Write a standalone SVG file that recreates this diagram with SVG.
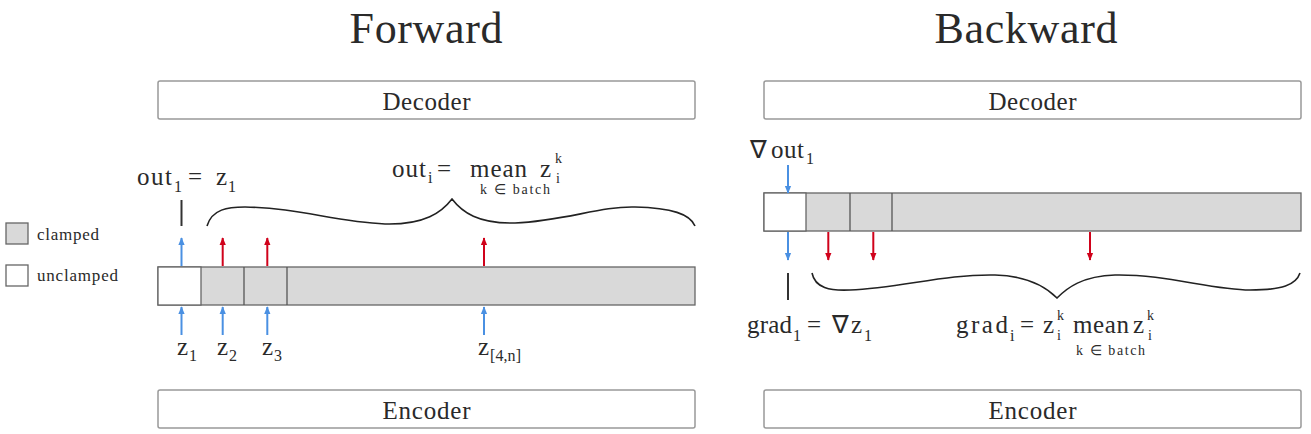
<svg xmlns="http://www.w3.org/2000/svg" width="1311" height="434" viewBox="0 0 1311 434">
<defs>
<style>
text{font-family:"Liberation Serif","Times New Roman",serif;fill:#2a2a2a}
.t{font-size:44px}
.b{font-size:25px}
.m{font-size:25px}
.s{font-size:16px}
.ss{font-size:14px}
.xs{font-size:14px}
.lg{font-size:17px}
.box{fill:#fff;stroke:#999;stroke-width:1.5}
.cl{fill:#d9d9d9;stroke:#666;stroke-width:1.3}
.un{fill:#fff;stroke:#666;stroke-width:1.3}
.blue{stroke:#4a90e2;stroke-width:2;fill:none}
.red{stroke:#d0021b;stroke-width:2;fill:none}
.tick{stroke:#333;stroke-width:2}
.brace{fill:none;stroke:#222;stroke-width:1.6}
</style>
<marker id="ab" viewBox="0 0 10 10" refX="9" refY="5" markerWidth="4" markerHeight="4" markerUnits="strokeWidth" orient="auto"><path d="M0,1 L10,5 L0,9 z" fill="#4a90e2"/></marker>
<marker id="ar" viewBox="0 0 10 10" refX="9" refY="5" markerWidth="4" markerHeight="4" markerUnits="strokeWidth" orient="auto"><path d="M0,1 L10,5 L0,9 z" fill="#d0021b"/></marker>
</defs>

<text class="t" x="426" y="43" text-anchor="middle" textLength="153">Forward</text>
<text class="t" x="1026" y="43" text-anchor="middle" textLength="183">Backward</text>

<g id="legend">
<rect class="cl" x="6" y="223" width="22" height="21"/>
<text class="lg" x="37" y="240" textLength="62">clamped</text>
<rect class="un" x="6" y="265" width="22" height="21"/>
<text class="lg" x="37" y="281" textLength="81">unclamped</text>
</g>

<g id="fwd-decoder"><rect class="box" x="158" y="81" width="537" height="38" rx="2"/><text class="b" x="426.5" y="110" text-anchor="middle" textLength="88">Decoder</text></g>
<g id="fwd-encoder"><rect class="box" x="158" y="390" width="537" height="38" rx="2"/><text class="b" x="426.5" y="419" text-anchor="middle" textLength="88">Encoder</text></g>
<g id="bwd-decoder"><rect class="box" x="764" y="81" width="537" height="38" rx="2"/><text class="b" x="1032.5" y="110" text-anchor="middle" textLength="88">Decoder</text></g>
<g id="bwd-encoder"><rect class="box" x="764" y="390" width="537" height="38" rx="2"/><text class="b" x="1032.5" y="419" text-anchor="middle" textLength="88">Encoder</text></g>

<g id="fwd-bar">
<rect class="cl" x="158" y="267" width="537" height="38"/>
<rect class="un" x="158" y="267" width="43" height="38"/>
<line x1="244" y1="267" x2="244" y2="305" stroke="#555" stroke-width="1.3"/>
<line x1="287" y1="267" x2="287" y2="305" stroke="#555" stroke-width="1.3"/>
</g>

<g id="bwd-bar">
<rect class="cl" x="764" y="193" width="537" height="38"/>
<rect class="un" x="764" y="193" width="42" height="38"/>
<line x1="850" y1="193" x2="850" y2="231" stroke="#555" stroke-width="1.3"/>
<line x1="892" y1="193" x2="892" y2="231" stroke="#555" stroke-width="1.3"/>
</g>

<g id="connectors">
<line class="blue" x1="181.5" y1="335" x2="181.5" y2="307" marker-end="url(#ab)"/>
<line class="blue" x1="222.7" y1="335" x2="222.7" y2="307" marker-end="url(#ab)"/>
<line class="blue" x1="267.3" y1="335" x2="267.3" y2="307" marker-end="url(#ab)"/>
<line class="blue" x1="484" y1="335" x2="484" y2="307" marker-end="url(#ab)"/>
<line class="blue" x1="181.5" y1="266" x2="181.5" y2="238" marker-end="url(#ab)"/>
<line class="red" x1="222.7" y1="266" x2="222.7" y2="238" marker-end="url(#ar)"/>
<line class="red" x1="267.3" y1="266" x2="267.3" y2="238" marker-end="url(#ar)"/>
<line class="red" x1="484" y1="266" x2="484" y2="238" marker-end="url(#ar)"/>
<line class="blue" x1="788" y1="165" x2="788" y2="193" marker-end="url(#ab)"/>
<line class="blue" x1="788" y1="232" x2="788" y2="260" marker-end="url(#ab)"/>
<line class="red" x1="828.3" y1="232" x2="828.3" y2="260" marker-end="url(#ar)"/>
<line class="red" x1="873.3" y1="232" x2="873.3" y2="260" marker-end="url(#ar)"/>
<line class="red" x1="1090" y1="232" x2="1090" y2="260" marker-end="url(#ar)"/>
<line class="tick" x1="181.5" y1="200" x2="181.5" y2="226"/>
<line class="tick" x1="788" y1="273" x2="788" y2="300"/>
<path class="brace" d="M207,226 C212,209 228,207 245,207 C300,208 335,222 385,224 C425,225 442,212 452,199 C462,212 478,224 515,223 C565,221 600,206 635,207 C672,208 690,214 695,226"/>
<path class="brace" d="M812,273 C815,288 830,291 850,290 C900,288 945,274 995,275 C1030,276 1047,288 1057,298 C1067,288 1082,276 1115,275 C1165,274 1212,290 1250,290 C1282,290 1296,285 1300,273"/>
</g>

<g id="labels">
<text class="m" x="137" y="185" textLength="35">out</text><text class="s" x="174" y="192">1</text><text class="m" x="188" y="185">=</text><text class="m" x="216" y="185">z</text><text class="s" x="228" y="192">1</text>

<text class="m" x="392" y="177" textLength="34">out</text><text class="s" x="428" y="183">i</text><text class="m" x="437" y="177">=</text><text class="m" x="470" y="177" textLength="57">mean</text><text class="m" x="540" y="177">z</text><text class="ss" x="555" y="163">k</text><text class="ss" x="556" y="183">i</text><text class="xs" x="480" y="194" textLength="70">k ∈ batch</text>

<text class="m" x="177" y="355">z</text><text class="s" x="189" y="361">1</text>
<text class="m" x="217" y="355">z</text><text class="s" x="229" y="361">2</text>
<text class="m" x="262" y="355">z</text><text class="s" x="274" y="361">3</text>
<text class="m" x="478" y="355">z</text><text class="s" x="490" y="361" textLength="31">[4,n]</text>

<text class="m" x="750" y="158">∇</text><text class="m" x="771" y="158" textLength="33">out</text><text class="s" x="806" y="164">1</text>

<text class="m" x="747" y="333" textLength="45">grad</text><text class="s" x="793" y="341">1</text><text class="m" x="807" y="333">=</text><text class="m" x="832" y="333">∇</text><text class="m" x="851" y="333">z</text><text class="s" x="864" y="341">1</text>

<text class="m" x="956" y="333" textLength="52">grad</text><text class="s" x="1010" y="341">i</text><text class="m" x="1020" y="333">=</text><text class="m" x="1043" y="333">z</text><text class="ss" x="1057" y="320">k</text><text class="ss" x="1057" y="340">i</text><text class="m" x="1073" y="333" textLength="56">mean</text><text class="m" x="1133" y="333">z</text><text class="ss" x="1147" y="320">k</text><text class="ss" x="1148" y="340">i</text><text class="xs" x="1076" y="355" textLength="69">k ∈ batch</text>
</g>
</svg>
